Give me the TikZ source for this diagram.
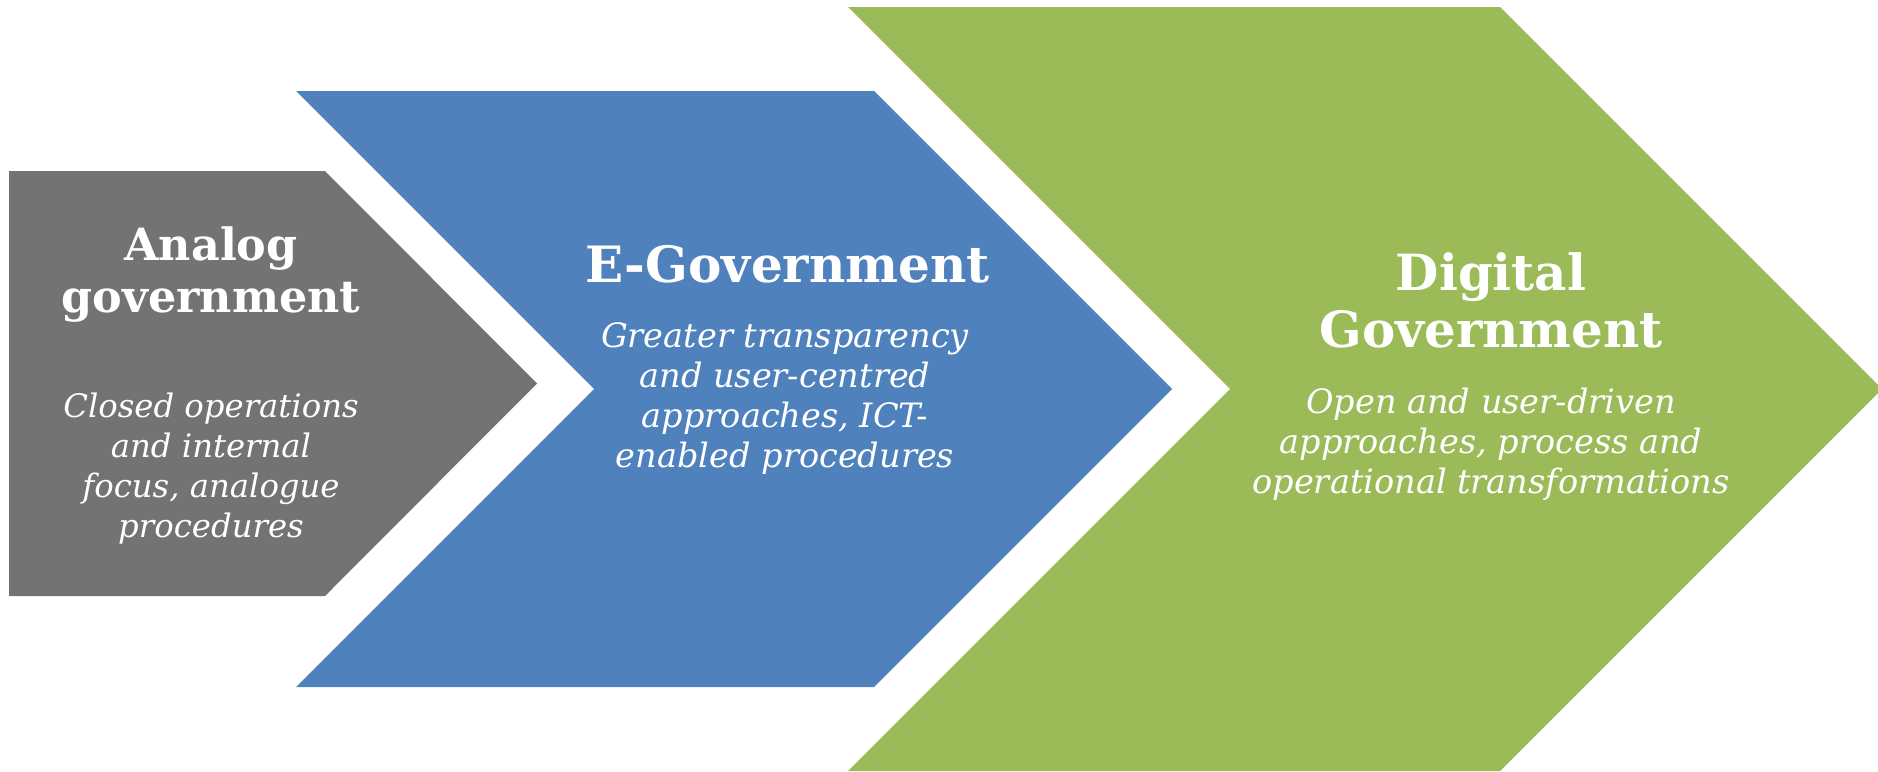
\documentclass[tikz,border=0pt]{standalone}
\usepackage{fontspec}
\setmainfont{DejaVu Serif}
\definecolor{analoggray}{RGB}{115,115,115}
\definecolor{egovblue}{RGB}{79,129,189}
\definecolor{digitalgreen}{RGB}{155,187,89}
\tikzstyle{title}=[text=white,align=center,inner sep=0pt,anchor=base]
\tikzstyle{blurb}=[text=white,align=center,inner sep=0pt,anchor=base,font=\itshape\fontsize{19.1}{22.7}\selectfont]

\begin{document}
\begin{tikzpicture}[x=0.02cm,y=-0.02cm]
		\useasboundingbox (0,0) rectangle (1878,771);
		% First we draw the three stages
		\fill[analoggray] (9,171) -- (325,171) -- (537,383.5) -- (325,596) -- (9,596) -- cycle;
		\fill[egovblue] (296,91) -- (874,91) -- (1172,389) -- (874,687) -- (296,687) -- (594,389) -- cycle;
		\fill[digitalgreen] (848,7) -- (1500,7) -- (1882,389) -- (1500,771) -- (848,771) -- (1230,389) -- cycle;
		% then the names and the blurbs (placed at the baseline of their last line)
		\node[title,font=\bfseries\fontsize{25.3}{29.6}\selectfont] (analog) at (211,312) {Analog\\government};
		\node[blurb,font=\itshape\fontsize{18.4}{22.7}\selectfont] (analogtext) at (211,537) {Closed operations\\and internal\\focus, analogue\\procedures};
		\node[title,font=\bfseries\fontsize{28.5}{32.4}\selectfont] (egov) at (788,282) {E-Government};
		\node[blurb] (egovtext) at (785,467) {Greater transparency\\and user-centred\\approaches, ICT-\\enabled procedures};
		\node[title,font=\bfseries\fontsize{28.4}{32.4}\selectfont] (digital) at (1491,347) {Digital\\Government};
		\node[blurb] (digitaltext) at (1491,493) {Open and user-driven\\approaches, process and\\operational transformations};
\end{tikzpicture}
\end{document}
